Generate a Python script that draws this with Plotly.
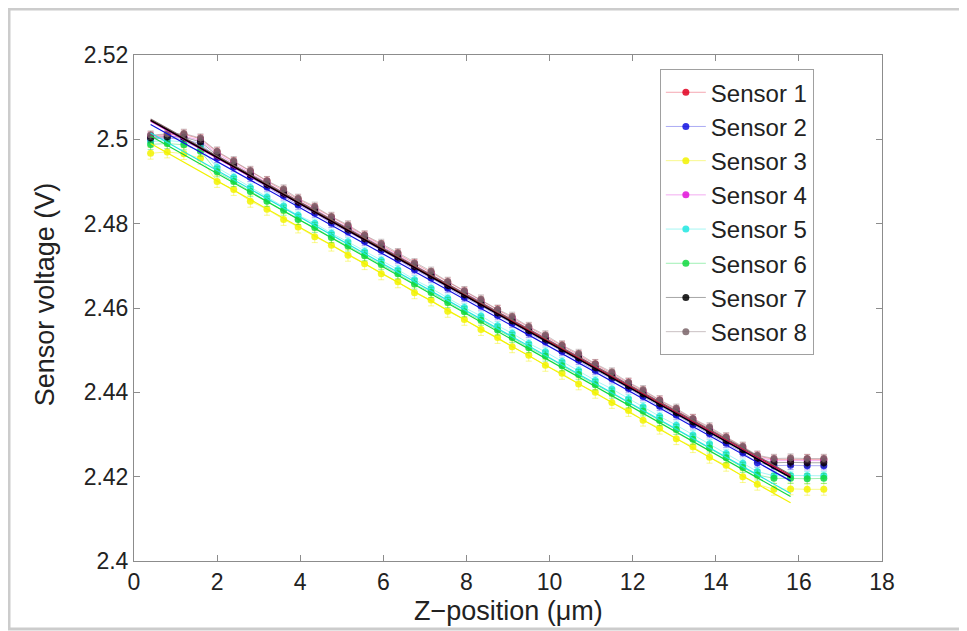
import plotly.graph_objs as go

# Z positions (um) where each sensor voltage was measured
z_pos = [0.4, 0.8, 1.2, 1.6, 2.0, 2.4, 2.8, 3.2, 3.6, 3.95, 4.35, 4.75, 5.15, 5.55,
         5.95, 6.35, 6.75, 7.15, 7.55, 7.95, 8.35, 8.75, 9.1, 9.5, 9.9, 10.3, 10.7,
         11.1, 11.5, 11.9, 12.25, 12.65, 13.05, 13.45, 13.85, 14.25, 14.65, 15.0,
         15.4, 15.8, 16.2, 16.6]

# measured voltages for each sensor
sensor1 = [2.5008, 2.5011, 2.5012, 2.5001, 2.4970, 2.4947, 2.4924, 2.4901, 2.4879, 2.4858,
           2.4838, 2.4815, 2.4794, 2.4772, 2.4750, 2.4729, 2.4705, 2.4684, 2.4661, 2.4639,
           2.4618, 2.4596, 2.4577, 2.4554, 2.4533, 2.4511, 2.4489, 2.4467, 2.4445, 2.4423,
           2.4403, 2.4381, 2.4359, 2.4337, 2.4315, 2.4293, 2.4270, 2.4249,
           2.4241, 2.4241, 2.4242, 2.4241]
sensor2 = [2.5001, 2.5003, 2.5000, 2.4990, 2.4955, 2.4934, 2.4910, 2.4887, 2.4866, 2.4844,
           2.4825, 2.4801, 2.4781, 2.4758, 2.4737, 2.4715, 2.4691, 2.4671, 2.4647, 2.4625,
           2.4605, 2.4582, 2.4564, 2.4540, 2.4520, 2.4497, 2.4476, 2.4452, 2.4432, 2.4409,
           2.4390, 2.4367, 2.4346, 2.4323, 2.4302, 2.4279, 2.4257, 2.4233,
           2.4226, 2.4227, 2.4226, 2.4226]
sensor3 = [2.4967, 2.4970, 2.4966, 2.4955, 2.4900, 2.4881, 2.4853, 2.4834, 2.4810, 2.4792,
           2.4769, 2.4749, 2.4725, 2.4705, 2.4681, 2.4662, 2.4636, 2.4619, 2.4592, 2.4573,
           2.4549, 2.4530, 2.4508, 2.4488, 2.4464, 2.4445, 2.4420, 2.4400, 2.4376, 2.4357,
           2.4334, 2.4315, 2.4290, 2.4271, 2.4246, 2.4227, 2.4200, 2.4182,
           2.4170, 2.4171, 2.4170, 2.4170]
sensor4 = [2.5006, 2.5008, 2.5007, 2.4998, 2.4966, 2.4943, 2.4920, 2.4897, 2.4875, 2.4854,
           2.4835, 2.4811, 2.4791, 2.4768, 2.4747, 2.4725, 2.4702, 2.4681, 2.4657, 2.4636,
           2.4615, 2.4591, 2.4574, 2.4550, 2.4530, 2.4506, 2.4486, 2.4462, 2.4442, 2.4419,
           2.4400, 2.4377, 2.4356, 2.4333, 2.4312, 2.4289, 2.4267, 2.4246,
           2.4238, 2.4238, 2.4237, 2.4238]
sensor5 = [2.4995, 2.4997, 2.4994, 2.4980, 2.4933, 2.4910, 2.4886, 2.4863, 2.4842, 2.4820,
           2.4801, 2.4777, 2.4757, 2.4734, 2.4713, 2.4691, 2.4667, 2.4647, 2.4623, 2.4601,
           2.4581, 2.4558, 2.4540, 2.4516, 2.4496, 2.4473, 2.4452, 2.4428, 2.4408, 2.4385,
           2.4366, 2.4343, 2.4322, 2.4299, 2.4278, 2.4255, 2.4232, 2.4212,
           2.4202, 2.4203, 2.4202, 2.4202]
sensor6 = [2.4988, 2.4990, 2.4987, 2.4972, 2.4923, 2.4900, 2.4876, 2.4853, 2.4832, 2.4810,
           2.4791, 2.4767, 2.4747, 2.4724, 2.4703, 2.4681, 2.4657, 2.4637, 2.4613, 2.4591,
           2.4571, 2.4548, 2.4530, 2.4506, 2.4486, 2.4463, 2.4442, 2.4418, 2.4398, 2.4375,
           2.4356, 2.4333, 2.4312, 2.4289, 2.4268, 2.4245, 2.4222, 2.4204,
           2.4196, 2.4196, 2.4195, 2.4196]
sensor7 = [2.5004, 2.5006, 2.5005, 2.4994, 2.4962, 2.4940, 2.4916, 2.4893, 2.4872, 2.4850,
           2.4831, 2.4807, 2.4787, 2.4764, 2.4743, 2.4721, 2.4698, 2.4677, 2.4653, 2.4631,
           2.4611, 2.4588, 2.4570, 2.4546, 2.4526, 2.4503, 2.4482, 2.4458, 2.4438, 2.4415,
           2.4396, 2.4373, 2.4352, 2.4329, 2.4308, 2.4285, 2.4263, 2.4243,
           2.4233, 2.4234, 2.4233, 2.4233]
sensor8 = [2.5010, 2.5013, 2.5014, 2.5003, 2.4972, 2.4949, 2.4926, 2.4902, 2.4882, 2.4860,
           2.4841, 2.4817, 2.4797, 2.4773, 2.4753, 2.4731, 2.4707, 2.4687, 2.4663, 2.4641,
           2.4621, 2.4597, 2.4580, 2.4556, 2.4536, 2.4512, 2.4492, 2.4468, 2.4448, 2.4424,
           2.4406, 2.4382, 2.4362, 2.4338, 2.4318, 2.4294, 2.4272, 2.4251,
           2.4243, 2.4244, 2.4243, 2.4243]

names = ['Sensor 1', 'Sensor 2', 'Sensor 3', 'Sensor 4',
         'Sensor 5', 'Sensor 6', 'Sensor 7', 'Sensor 8']
voltages = [sensor1, sensor2, sensor3, sensor4, sensor5, sensor6, sensor7, sensor8]
err_v = [0.0010, 0.0010, 0.0014, 0.0010, 0.0010, 0.0012, 0.0010, 0.0010]

# linear fit lines, start and end voltage for each sensor
fit_z = [0.4, 15.8]
fit_start = [2.5046, 2.5035, 2.4990, 2.5043, 2.5015, 2.5008, 2.5045, 2.5048]
fit_end = [2.4203, 2.4190, 2.4138, 2.4200, 2.4160, 2.4153, 2.4198, 2.4205]

colors = ['#e00020', '#1010e0', '#f2f200', '#e010d8', '#20e6e0', '#10d840', '#000000', '#7a6468']
pale = ['rgba(224,0,32,0.35)', 'rgba(16,16,224,0.35)', 'rgba(242,242,0,0.45)',
        'rgba(224,16,216,0.35)', 'rgba(32,230,224,0.4)', 'rgba(16,216,64,0.4)',
        'rgba(0,0,0,0.35)', 'rgba(122,100,104,0.4)']

ytick_vals = [2.4, 2.42, 2.44, 2.46, 2.48, 2.5, 2.52]
ytick_text = ['2.4', '2.42', '2.44', '2.46', '2.48', '2.5', '2.52']

fig = go.Figure()

# measured points with error bars
for i in range(8):
    fig.add_trace(go.Scatter(
        x=z_pos, y=voltages[i], name=names[i], mode='lines+markers',
        line=dict(color=pale[i], width=1),
        marker=dict(color=colors[i], size=7, opacity=0.85),
        error_y=dict(type='constant', value=err_v[i], color=pale[i], thickness=1, width=3),
    ))

# fit lines drawn on top, black last
fit_order = [2, 5, 4, 1, 3, 0, 7, 6]
for i in fit_order:
    fig.add_trace(go.Scatter(
        x=fit_z, y=[fit_start[i], fit_end[i]], mode='lines',
        line=dict(color=colors[i], width=1.6 if i == 6 else 1.2),
        showlegend=False, hoverinfo='skip',
    ))

axis_style = dict(
    showline=True, linecolor='#8c8c8c', linewidth=1, mirror='ticks',
    ticks='inside', ticklen=6, tickcolor='#8c8c8c', showgrid=False, zeroline=False,
    tickfont=dict(family='Liberation Sans, Arial', size=23, color='#222222'),
)

# the page body has an 8px margin, so the figure is 8px smaller and shifted
fig.update_layout(
    width=959, height=623,
    paper_bgcolor='white', plot_bgcolor='white',
    margin=dict(l=126, r=85, t=47, b=70),
    font=dict(family='Liberation Sans, Arial', color='#222222'),
    xaxis=dict(range=[0, 18], tickvals=list(range(0, 19, 2)), **axis_style),
    yaxis=dict(range=[2.4, 2.52], tickvals=ytick_vals, ticktext=ytick_text, **axis_style),
    legend=dict(x=0.703, y=0.972, xanchor='left', yanchor='top',
                bgcolor='white', bordercolor='#a0a0a0', borderwidth=1,
                font=dict(size=24, color='#222222'), itemwidth=40, tracegroupgap=0),
    showlegend=True,
)

# axis titles placed as annotations so they sit where the original has them
fig.add_annotation(text='Z\u2212position (\u03bcm)', xref='paper', yref='paper',
                   x=0.5, y=-0.099, xanchor='center', yanchor='middle',
                   showarrow=False, font=dict(size=27, color='#222222'))
fig.add_annotation(text='Sensor voltage (V)', xref='paper', yref='paper',
                   x=-0.119, y=0.527, xanchor='center', yanchor='middle', textangle=-90,
                   showarrow=False, font=dict(size=27, color='#222222'))

# light grey frame round the whole picture
fig.add_shape(type='rect', xref='paper', yref='paper',
              x0=-0.1671, x1=1.1083, y0=-0.1344, y1=1.0909,
              line=dict(color='#cccccc', width=3), fillcolor='rgba(0,0,0,0)')

fig.write_html('out.html')
